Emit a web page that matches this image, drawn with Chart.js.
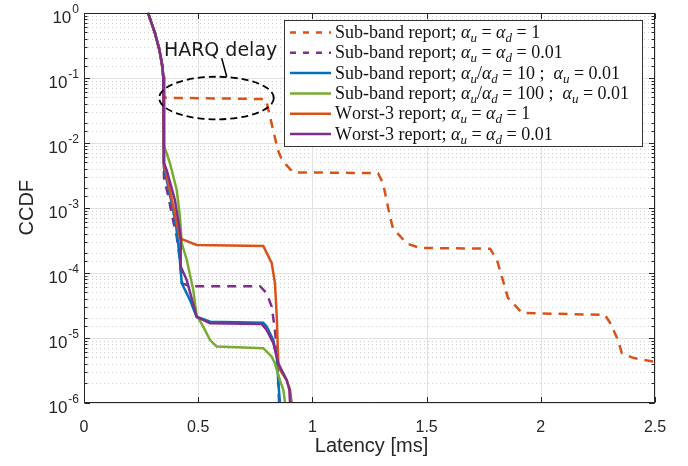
<!DOCTYPE html>
<html><head><meta charset="utf-8">
<script src="https://cdn.jsdelivr.net/npm/chart.js@4/dist/chart.umd.min.js"></script>
<style>html,body{margin:0;padding:0;background:#fff}#wrap{width:688px;height:466px;position:relative}</style>
</head><body><div id="wrap"><canvas id="c"></canvas></div>
<script>
// ---------- text ----------
const xTitle = 'Latency [ms]';
const yTitle = 'CCDF';
const xTickValues = [0, 0.5, 1, 1.5, 2, 2.5];
const yExponents = [0, -1, -2, -3, -4, -5, -6];
const annotationText = 'HARQ delay';

// ---------- series labels (α_u : subscript) ----------
const labels = [
  'Sub-band report; α_u = α_d = 1',
  'Sub-band report; α_u = α_d = 0.01',
  'Sub-band report; α_u/α_d = 10 ;  α_u = 0.01',
  'Sub-band report; α_u/α_d = 100 ;  α_u = 0.01',
  'Worst-3 report; α_u = α_d = 1',
  'Worst-3 report; α_u = α_d = 0.01'
];

// ---------- data (latency ms, CCDF) ----------
const subA1_x = [0.280,0.311,0.330,0.343,0.347,0.350,0.360,0.792,0.800,0.849,0.867,0.915,1.287,1.309,1.340,1.353,1.414,1.471,1.778,1.808,1.843,1.856,1.918,2.281,2.303,2.334,2.355,2.404,2.491,2.5];
const subA1_y = [1,0.48,0.27,0.15,0.104,0.052,0.049,0.047,0.041,0.0077,0.0054,0.0035,0.0034,0.0024,0.00072,0.00048,0.00028,0.00024,0.000234,0.000157,6.0e-5,4.1e-5,2.4e-5,2.24e-5,1.7e-5,9.9e-6,5.8e-6,4.9e-6,4.3e-6,4.3e-6];

const subA001_x = [0.280,0.311,0.330,0.343,0.347,0.350,0.368,0.385,0.406,0.420,0.429,0.464,0.771,0.800,0.822,0.836,0.844,0.851,0.854];
const subA001_y = [1,0.48,0.27,0.15,0.104,0.0029,0.00157,0.00077,0.000358,0.000157,6.9e-5,6.2e-5,6.2e-5,4.8e-5,3.0e-5,1.3e-5,6.5e-6,2.0e-6,1e-6];

const subR10_x = [0.280,0.311,0.330,0.343,0.347,0.350,0.3765,0.403,0.418,0.4225,0.428,0.464,0.493,0.552,0.785,0.800,0.829,0.844,0.851,0.858];
const subR10_y = [1,0.48,0.27,0.15,0.104,0.0041,0.00157,0.00054,0.000187,0.000118,6.9e-5,3.8e-5,2.1e-5,1.76e-5,1.7e-5,1.48e-5,9.2e-6,5.1e-6,2.0e-6,1e-6];

const subR100_x = [0.280,0.311,0.330,0.343,0.347,0.350,0.3765,0.406,0.420,0.428,0.450,0.4785,0.493,0.522,0.552,0.581,0.785,0.800,0.822,0.836,0.858,0.873,0.880];
const subR100_y = [1,0.48,0.27,0.15,0.104,0.0092,0.0048,0.00187,0.00073,0.000283,0.000157,5.4e-5,2.23e-5,1.48e-5,9.2e-6,7.3e-6,6.9e-6,6.1e-6,5.1e-6,4.0e-6,2.2e-6,1.57e-6,1e-6];

const w3A1_x = [0.280,0.311,0.330,0.343,0.347,0.350,0.355,0.385,0.420,0.493,0.785,0.822,0.836,0.844,0.851,0.858,0.8875,0.902,0.909];
const w3A1_y = [1,0.48,0.27,0.15,0.104,0.0043,0.0040,0.00131,0.000338,0.000267,0.000258,0.00014,6.9e-5,2.1e-5,4.0e-6,3.2e-6,2.2e-6,1.6e-6,1e-6];

const w3A001_x = [0.280,0.311,0.330,0.343,0.347,0.350,0.362,0.398,0.417,0.423,0.4234,0.450,0.493,0.552,0.778,0.800,0.829,0.851,0.8725,0.8875,0.899,0.902];
const w3A001_y = [1,0.48,0.27,0.15,0.104,0.0049,0.0038,0.00131,0.00051,0.000358,0.000124,7.7e-5,2.1e-5,1.67e-5,1.62e-5,1.32e-5,8.2e-6,4.0e-6,2.83e-6,2.24e-6,1.57e-6,1e-6];

// ---------- annotation (data units) ----------
const ellipseX = [0.329, 0.831];
const ellipseY = [0.1035, 0.0229];
const annotTextPos = [0.598, 0.26];
const leaderX = [0.603, 0.625];
const leaderY = [0.199, 0.1035];

const COLORS = ['#D95319','#7E2F8E','#0072BD','#77AC30','#D95319','#7E2F8E'];
const DASHED = [true, true, false, false, false, false];
const seriesX = [subA1_x, subA001_x, subR10_x, subR100_x, w3A1_x, w3A001_x];
const seriesY = [subA1_y, subA001_y, subR10_y, subR100_y, w3A1_y, w3A001_y];

const datasets = seriesX.map((xs, i) => ({
  label: labels[i],
  data: xs.map((x, j) => ({x: x, y: seriesY[i][j]})),
  borderColor: COLORS[i],
  backgroundColor: COLORS[i],
  borderWidth: 2.5,
  borderDash: DASHED[i] ? [9, 7] : [],
  pointRadius: 0,
  tension: 0,
  fill: false,
  order: 6 - i
}));

const AX = '#262626';
const SANS = '"Liberation Sans", Arial, sans-serif';

function isMajorLog(v) {
  const l = Math.log10(v);
  return Math.abs(l - Math.round(l)) < 1e-9;
}

// draw mixed text with α italic and _x subscripts
function drawMath(ctx, str, x, y, size) {
  const base = size + 'px "Liberation Serif", "Times New Roman", serif';
  const ital = 'italic ' + size + 'px "Liberation Serif", "Times New Roman", serif';
  const sub = 'italic ' + Math.round(size * 0.7) + 'px "Liberation Serif", "Times New Roman", serif';
  let cx = x;
  for (let i = 0; i < str.length; i++) {
    const ch = str[i];
    if (ch === '_' && i + 1 < str.length) {
      ctx.font = sub;
      ctx.fillText(str[i + 1], cx, y + 4);
      cx += ctx.measureText(str[i + 1]).width;
      i++;
      continue;
    }
    ctx.font = (ch === 'α') ? ital : base;
    ctx.fillText(ch, cx, y);
    cx += ctx.measureText(ch).width;
  }
}

const matlabPlugin = {
  id: 'matlab',
  beforeDatasetsDraw(chart) {
    const {ctx, chartArea: a, scales: {x, y}} = chart;
    ctx.save();
    ctx.lineWidth = 1;
    y.ticks.forEach(t => {
      if (isMajorLog(t.value)) return;
      const py = Math.round(y.getPixelForValue(t.value)) + 0.5;
      ctx.strokeStyle = '#cfcfcf';
      ctx.setLineDash([1, 3]);
      ctx.beginPath(); ctx.moveTo(a.left, py); ctx.lineTo(a.right, py); ctx.stroke();
    });
    ctx.setLineDash([]);
    ctx.strokeStyle = '#e1e1e1';
    y.ticks.forEach(t => {
      if (!isMajorLog(t.value)) return;
      const py = Math.round(y.getPixelForValue(t.value)) + 0.5;
      ctx.beginPath(); ctx.moveTo(a.left, py); ctx.lineTo(a.right, py); ctx.stroke();
    });
    xTickValues.forEach(v => {
      const px = Math.round(x.getPixelForValue(v)) + 0.5;
      ctx.beginPath(); ctx.moveTo(px, a.top); ctx.lineTo(px, a.bottom); ctx.stroke();
    });
    ctx.restore();
  },
  afterDatasetsDraw(chart) {
    const {ctx, chartArea: a, scales: {x, y}} = chart;
    ctx.save();
    // annotation ellipse
    const ex0 = x.getPixelForValue(ellipseX[0]), ex1 = x.getPixelForValue(ellipseX[1]);
    const ey0 = y.getPixelForValue(ellipseY[0]), ey1 = y.getPixelForValue(ellipseY[1]);
    ctx.strokeStyle = '#000';
    ctx.lineWidth = 1.8;
    ctx.setLineDash([7, 4]);
    ctx.beginPath();
    ctx.ellipse((ex0 + ex1) / 2, (ey0 + ey1) / 2, (ex1 - ex0) / 2, (ey1 - ey0) / 2, 0, 0, Math.PI * 2);
    ctx.stroke();
    ctx.setLineDash([]);
    ctx.lineWidth = 1.5;
    ctx.beginPath();
    ctx.moveTo(x.getPixelForValue(leaderX[0]), y.getPixelForValue(leaderY[0]));
    ctx.lineTo(x.getPixelForValue(leaderX[1]), y.getPixelForValue(leaderY[1]));
    ctx.stroke();
    ctx.fillStyle = '#1a1a1a';
    ctx.font = '19px "DejaVu Sans", sans-serif';
    ctx.textAlign = 'center';
    ctx.textBaseline = 'middle';
    ctx.fillText(annotationText, x.getPixelForValue(annotTextPos[0]), y.getPixelForValue(annotTextPos[1]));

    // axes box
    ctx.strokeStyle = AX;
    ctx.lineWidth = 1;
    const L = Math.round(a.left) + 0.5, R = Math.round(a.right) - 0.5, T = Math.round(a.top) + 0.5, B = Math.round(a.bottom) - 0.5;
    ctx.strokeRect(L, T, R - L, B - T);
    y.ticks.forEach(t => {
      const py = Math.round(y.getPixelForValue(t.value)) + 0.5;
      const len = isMajorLog(t.value) ? 5.5 : 3;
      ctx.beginPath();
      ctx.moveTo(L, py); ctx.lineTo(L + len, py);
      ctx.moveTo(R, py); ctx.lineTo(R - len, py);
      ctx.stroke();
    });
    xTickValues.forEach(v => {
      const px = Math.round(x.getPixelForValue(v)) + 0.5;
      ctx.beginPath();
      ctx.moveTo(px, B); ctx.lineTo(px, B - 5.5);
      ctx.moveTo(px, T); ctx.lineTo(px, T + 5.5);
      ctx.stroke();
    });
    // y tick labels 10^e
    ctx.fillStyle = AX;
    ctx.textAlign = 'left';
    ctx.textBaseline = 'alphabetic';
    yExponents.forEach(e => {
      const py = y.getPixelForValue(Math.pow(10, e));
      ctx.font = '12px ' + SANS;
      const sup = String(e);
      const sw = ctx.measureText(sup).width;
      ctx.font = '17px ' + SANS;
      const bw = ctx.measureText('10').width;
      const xEnd = a.left - 5;
      ctx.fillText('10', xEnd - sw - bw - 1, py + 10.5);
      ctx.font = '12px ' + SANS;
      ctx.fillText(sup, xEnd - sw, py + 0.5);
    });
    // axis titles
    ctx.font = '20px ' + SANS;
    ctx.textAlign = 'center';
    ctx.fillText(xTitle, (a.left + a.right) / 2 + 2, 452);
    ctx.save();
    ctx.translate(33, (a.top + a.bottom) / 2);
    ctx.rotate(-Math.PI / 2);
    ctx.fillText(yTitle, 0, 0);
    ctx.restore();

    // legend
    const lx = 284.5, ly = 20.5, lw = 358, lh = 126;
    ctx.fillStyle = '#fff';
    ctx.fillRect(lx, ly, lw, lh);
    ctx.strokeStyle = '#333';
    ctx.lineWidth = 1;
    ctx.strokeRect(lx, ly, lw, lh);
    chart.data.datasets.forEach((ds, i) => {
      const cy = 32.5 + i * 20.3;
      ctx.strokeStyle = ds.borderColor;
      ctx.lineWidth = 2.5;
      ctx.setLineDash(ds.borderDash.length ? [6, 7] : []);
      ctx.beginPath(); ctx.moveTo(290, cy); ctx.lineTo(331, cy); ctx.stroke();
      ctx.setLineDash([]);
      ctx.fillStyle = '#111';
      ctx.textAlign = 'left';
      ctx.textBaseline = 'alphabetic';
      drawMath(ctx, ds.label, 335, cy + 5.5, 18);
    });
    ctx.restore();
  }
};

new Chart(document.getElementById('c'), {
  type: 'line',
  data: {datasets},
  options: {
    responsive: true,
    maintainAspectRatio: false,
    animation: false,
    events: [],
    layout: {padding: {top: 12.7, right: 33, left: 0, bottom: 0}},
    plugins: {legend: {display: false}, tooltip: {enabled: false}},
    scales: {
      x: {
        type: 'linear', min: 0, max: 2.5,
        ticks: {stepSize: 0.5, font: {family: SANS, size: 16}, color: AX, padding: 15, maxRotation: 0,
          callback: v => xTickValues.includes(v) ? String(v) : ''},
        grid: {display: false, drawTicks: false},
        border: {display: false},
        afterFit: s => { s.height = 63.3; }
      },
      y: {
        type: 'logarithmic', min: 1e-6, max: 1,
        ticks: {display: false, autoSkip: false},
        grid: {display: false, drawTicks: false},
        border: {display: false},
        afterFit: s => { s.width = 84; }
      }
    }
  },
  plugins: [matlabPlugin]
});
</script>
</body></html>
